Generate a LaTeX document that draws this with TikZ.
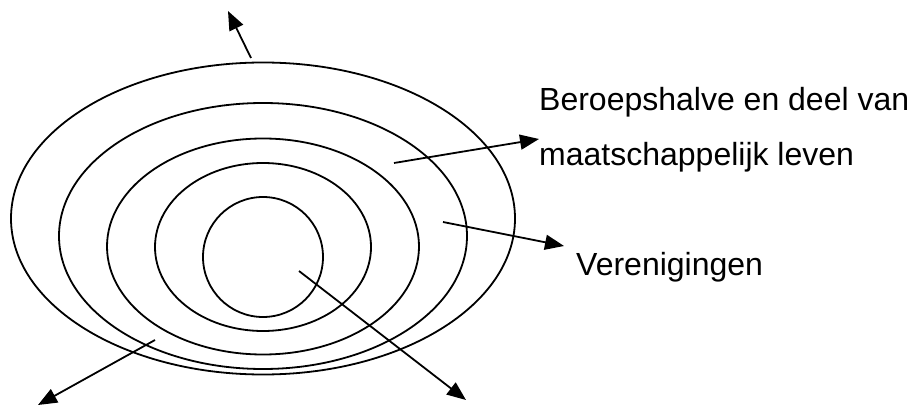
\documentclass[tikz,border=0pt]{standalone}
\usepackage{fontspec}
\setmainfont{Liberation Sans}
\usetikzlibrary{arrows.meta}
\begin{document}
\begin{tikzpicture}[x=1pt,y=-1pt,
  ring/.style={draw=black,line width=1.8pt},
  pointer/.style={draw=black,line width=1.8pt,-{Triangle[length=19pt,width=15pt]}},
  lbl/.style={anchor=base west,inner sep=0pt,font=\fontsize{32pt}{38pt}\selectfont}]
\useasboundingbox (0,0) rectangle (910,406);
% concentric rings
\draw[ring] (263,218.5) ellipse [x radius=252pt, y radius=156pt];
\draw[ring] (263,236) ellipse [x radius=204pt, y radius=133pt];
\draw[ring] (263,246.5) ellipse [x radius=156pt, y radius=108pt];
\draw[ring] (263,247) ellipse [x radius=108pt, y radius=84pt];
\draw[ring] (263,257) ellipse [x radius=60pt, y radius=60pt];
% labels
\node[lbl] (ber1) at (539,110.5) {Beroepshalve en deel van};
\node[lbl] (ber2) at (539,166) {maatschappelijk leven};
\node[lbl] (ver) at (576,275) {Verenigingen};
% arrow ends
\coordinate (topS) at (251,58);
\coordinate (topT) at (228,11);
\coordinate (berS) at (394,163);
\coordinate (berT) at (539,139);
\coordinate (verS) at (443,222);
\coordinate (verT) at (564,246);
\coordinate (blS) at (155,340);
\coordinate (blT) at (38,405);
\coordinate (brS) at (299,271);
\coordinate (brT) at (466,400);
% arrows
\draw[pointer] (topS) -- (topT);
\draw[pointer] (berS) -- (berT);
\draw[pointer] (verS) -- (verT);
\draw[pointer] (blS) -- (blT);
\draw[pointer] (brS) -- (brT);
\end{tikzpicture}
\end{document}
